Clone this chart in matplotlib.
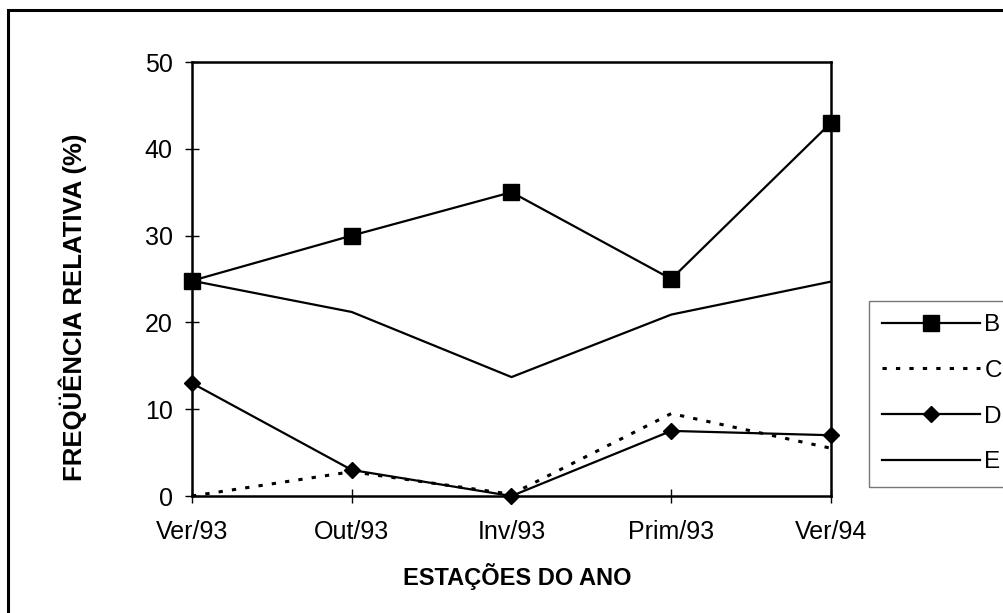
import matplotlib
matplotlib.use("Agg")
import matplotlib.pyplot as plt
from matplotlib.patches import Rectangle

# data
estacoes = ["Ver/93", "Out/93", "Inv/93", "Prim/93", "Ver/94"]
serie_b = [24.8, 30.0, 35.0, 25.0, 43.0]
serie_c = [0.0, 2.8, 0.2, 9.5, 5.5]
serie_d = [13.0, 3.0, 0.0, 7.5, 7.0]
serie_e = [24.8, 21.2, 13.7, 20.9, 24.7]

plt.rcParams['font.family'] = ['Liberation Sans', 'DejaVu Sans']

fig = plt.figure(figsize=(10.04, 6.13), dpi=100)
W, H = 1004, 613
ax = fig.add_axes([192 / W, 1 - 496 / H, (831 - 192) / W, (496 - 62) / H])

x = list(range(len(estacoes)))
ax.plot(x, serie_b, color='black', lw=1.6, marker='s', markersize=11.5, label='B', clip_on=False, zorder=5)
ax.plot(x, serie_c, color='black', lw=2.2, linestyle=(0, (1.4, 3.0)), label='C', clip_on=False, zorder=4)
ax.plot(x, serie_d, color='black', lw=1.6, marker='D', markersize=8.5, label='D', clip_on=False, zorder=5)
ax.plot(x, serie_e, color='black', lw=1.6, label='E', clip_on=False, zorder=4)

ax.set_xlim(0, 4)
ax.set_ylim(0, 50)
ax.set_xticks(x)
ax.set_xticklabels(estacoes)
ax.set_yticks([0, 10, 20, 30, 40, 50])
ax.tick_params(direction='inout', length=10, width=1, labelsize=18, pad=9)
ax.tick_params(axis='x', pad=12)
for s in ax.spines.values():
    s.set_linewidth(1.8)

fig.text(517 / W, 1 - 577 / H, "ESTAÇÕES DO ANO", fontsize=17, fontweight='bold',
         ha='center', va='center')
fig.text(73 / W, 1 - 307 / H, "FREQÜÊNCIA RELATIVA (%)", fontsize=18.5, fontweight='bold',
         rotation=90, ha='center', va='center')

leg = fig.legend(loc='upper left', bbox_to_anchor=(869 / W, 1 - 301 / H), fontsize=17.5,
                 frameon=True, fancybox=False, handlelength=4.0, handletextpad=0.2,
                 labelspacing=0.97, borderpad=0.55, borderaxespad=0)
leg.get_frame().set_edgecolor('#555555')
leg.get_frame().set_linewidth(1.0)

# outer chart frame (right and bottom edges fall outside the picture)
fig.add_artist(Rectangle((8 / W, -0.1), 1.2, 1 - 10 / H + 0.1, transform=fig.transFigure,
                         fill=False, edgecolor='black', lw=2.2, clip_on=False))

fig.savefig("out.png", dpi=100)
